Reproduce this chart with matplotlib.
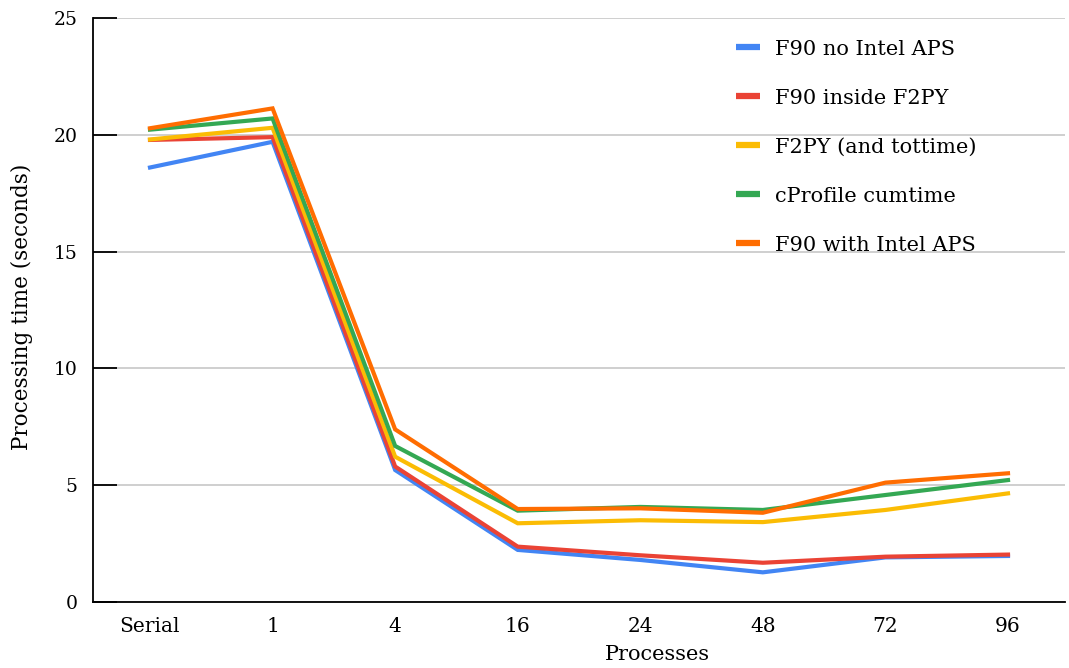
import matplotlib
matplotlib.use("Agg")
import matplotlib.pyplot as plt
from matplotlib.lines import Line2D

plt.rcParams['font.family'] = ['DejaVu Serif']

categories = ["Serial", "1", "4", "16", "24", "48", "72", "96"]

f90_no_aps = [18.6, 19.7, 5.65, 2.23, 1.8, 1.27, 1.91, 1.97]
f90_inside_f2py = [19.78, 19.9, 5.8, 2.37, 2.0, 1.68, 1.94, 2.03]
f2py_tottime = [19.8, 20.3, 6.22, 3.37, 3.5, 3.42, 3.94, 4.65]
cprofile_cumtime = [20.22, 20.7, 6.68, 3.91, 4.07, 3.94, 4.58, 5.22]
f90_with_aps = [20.28, 21.13, 7.39, 3.98, 4.01, 3.82, 5.11, 5.51]

series = [
    ("F90 no Intel APS", f90_no_aps, "#4285F4"),
    ("F90 inside F2PY", f90_inside_f2py, "#EA4335"),
    ("F2PY (and tottime)", f2py_tottime, "#FBBC04"),
    ("cProfile cumtime", cprofile_cumtime, "#34A853"),
    ("F90 with Intel APS", f90_with_aps, "#FF6D01"),
]

W, H = 1069, 668
fig = plt.figure(figsize=(W / 100, H / 100), dpi=100)
ax = fig.add_axes([93 / W, 1 - 602 / H, (1065 - 93) / W, (602 - 18) / H])

x = list(range(len(categories)))
handles = []
for label, vals, color in series:
    ax.plot(x, vals, color=color, linewidth=3, solid_joinstyle='miter')
    handles.append(Line2D([0], [0], color=color, linewidth=4.5, solid_capstyle='butt'))

ax.set_xlim(-0.465, len(categories) - 1 + 0.465)
ax.set_ylim(0, 25)
ax.set_yticks([0, 5, 10, 15, 20, 25])
ax.set_xticks(x)
ax.set_xticklabels(categories)

ax.grid(axis='y', color='#cccccc', linewidth=1.3)
ax.set_axisbelow(True)
ax.tick_params(axis='y', direction='in', length=17, width=1.3, color='black',
               pad=11, labelsize=13.5)
ax.tick_params(axis='x', length=0, pad=11, labelsize=14.5)

for s in ['top', 'right']:
    ax.spines[s].set_visible(False)
for s in ['left', 'bottom']:
    ax.spines[s].set_linewidth(1.3)
    ax.spines[s].set_color('black')

ax.set_ylabel("Processing time (seconds)", fontsize=15.5)
ax.yaxis.set_label_coords((33 - 93) / (1065 - 93), (602 - 307) / (602 - 18))
fig.text(657 / W, 1 - 654 / H, "Processes", ha='center', va='center', fontsize=15)

leg = ax.legend(handles, [s[0] for s in series], loc='upper left',
                bbox_to_anchor=((717 - 93) / (1065 - 93), 1 - (21 - 18) / (602 - 18)),
                frameon=False, fontsize=15, handlelength=1.15, handletextpad=0.75,
                labelspacing=1.44)

fig.savefig("out.png", dpi=100, facecolor='white')
